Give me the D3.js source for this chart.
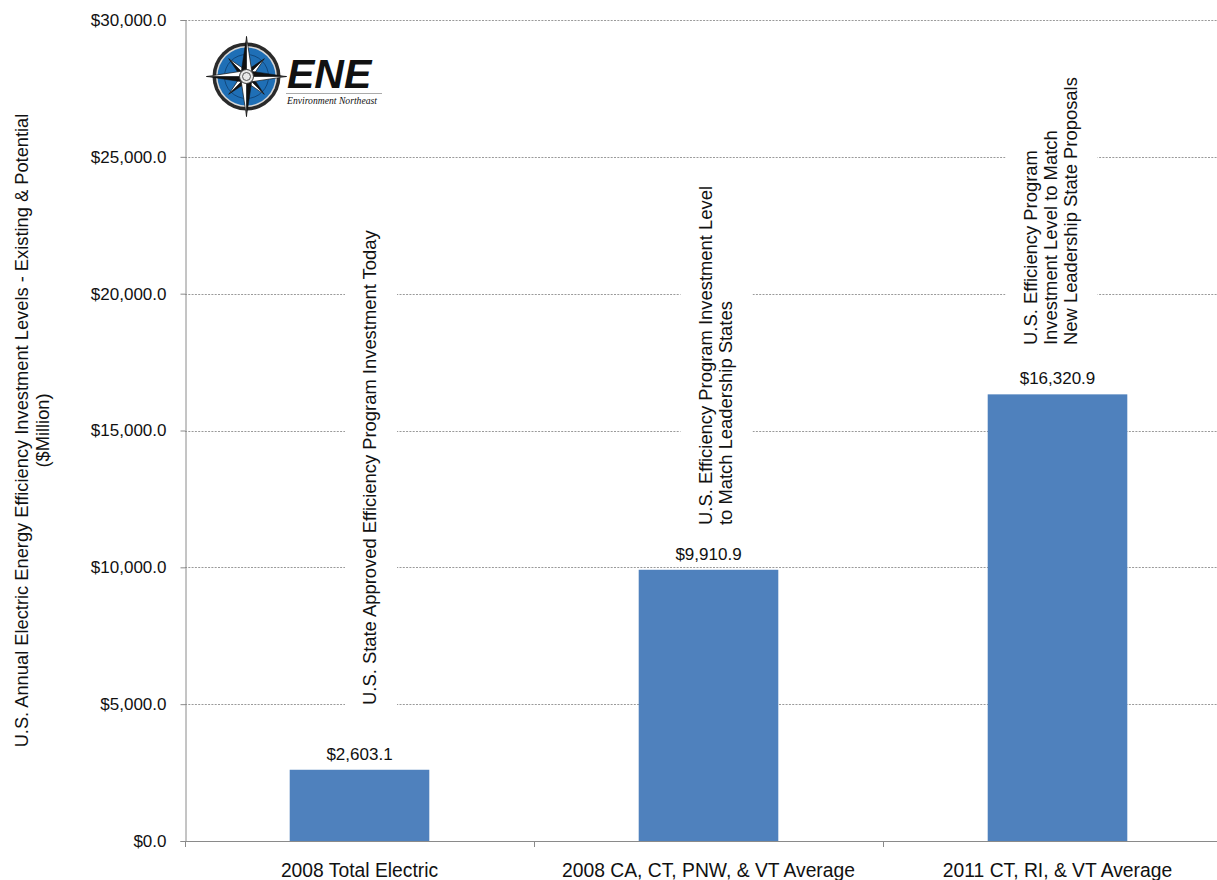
<!DOCTYPE html>
<html>
<head>
<meta charset="utf-8">
<script src="https://cdn.jsdelivr.net/npm/d3@7"></script>
<style>
  html, body { margin: 0; padding: 0; background: #fff; }
  svg { display: block; }
  text { font-family: "Liberation Sans", Arial, Helvetica, sans-serif; fill: #111; }
</style>
</head>
<body>
<svg id="chart" width="1217" height="880"></svg>
<script>
// Investment levels ($ million) by scenario
const categories = [
  "2008 Total Electric",
  "2008 CA, CT, PNW, & VT Average",
  "2011 CT, RI, & VT Average"
];
const values = [2603.1, 9910.9, 16320.9];

const yTicks = [0, 5000, 10000, 15000, 20000, 25000, 30000];

const yTitleLines = [
  "U.S. Annual Electric Energy Efficiency Investment Levels - Existing & Potential",
  "($Million)"
];

// Vertical notes written above each bar
const annotations = [
  ["U.S. State Approved Efficiency Program Investment Today"],
  ["U.S. Efficiency Program Investment Level", "to Match Leadership States"],
  ["U.S. Efficiency Program", "Investment Level to Match", "New Leadership  State Proposals"]
];

const W = 1217, H = 880;
const svg = d3.select("#chart");
svg.append("rect").attr("width", W).attr("height", H).attr("fill", "#fff");

const plot = { left: 185, top: 20, bottom: 841, step: 349 };

const x = d3.scaleBand()
  .domain(categories)
  .range([plot.left, plot.left + plot.step * categories.length])
  .paddingInner(0.6)
  .paddingOuter(0.3);

const y = d3.scaleLinear().domain([0, 30000]).range([plot.bottom, plot.top]);

const fmt = v => "$" + d3.format(",.1f")(v);

// Gridlines
svg.append("g").selectAll("line")
  .data(yTicks.filter(d => d > 0))
  .join("line")
  .attr("x1", plot.left).attr("x2", W)
  .attr("y1", d => Math.round(y(d)) + 0.5).attr("y2", d => Math.round(y(d)) + 0.5)
  .attr("stroke", "#9a9a9a")
  .attr("stroke-width", 1)
  .attr("stroke-dasharray", "2,1.3");

// Y axis
const yAxis = d3.axisLeft(y).tickValues(yTicks).tickFormat(fmt).tickSize(5).tickPadding(14);
const yG = svg.append("g").attr("transform", `translate(${plot.left + 0.5},0)`).call(yAxis);
yG.select(".domain").attr("stroke", "#8a8a8a");
yG.selectAll(".tick line").attr("stroke", "#8a8a8a");
yG.selectAll(".tick text")
  .attr("font-size", "17px")
  .style("font-family", "'Liberation Sans', Arial, sans-serif")
  .attr("fill", "#111");

// X axis: baseline with tick marks on category boundaries
const bounds = d3.range(categories.length + 1).map(i => plot.left + i * x.step());
const xG = svg.append("g");
xG.append("line")
  .attr("x1", plot.left).attr("x2", W)
  .attr("y1", plot.bottom + 0.5).attr("y2", plot.bottom + 0.5)
  .attr("stroke", "#8a8a8a");
xG.selectAll("line.tk")
  .data(bounds)
  .join("line")
  .attr("class", "tk")
  .attr("x1", d => Math.round(d) + 0.5).attr("x2", d => Math.round(d) + 0.5)
  .attr("y1", plot.bottom).attr("y2", plot.bottom + 6)
  .attr("stroke", "#8a8a8a");
xG.selectAll("text")
  .data(categories)
  .join("text")
  .attr("x", d => x(d) + x.bandwidth() / 2)
  .attr("y", 877)
  .attr("text-anchor", "middle")
  .attr("font-size", "19.3px")
  .text(d => d);

// Bars
svg.append("g").selectAll("rect")
  .data(values)
  .join("rect")
  .attr("x", (d, i) => x(categories[i]))
  .attr("width", x.bandwidth())
  .attr("y", d => y(d))
  .attr("height", d => y(0) - y(d))
  .attr("fill", "#4F81BD");

// Value labels
svg.append("g").selectAll("text")
  .data(values)
  .join("text")
  .attr("x", (d, i) => x(categories[i]) + x.bandwidth() / 2)
  .attr("y", d => y(d) - 10)
  .attr("text-anchor", "middle")
  .attr("font-size", "17px")
  .text(d => fmt(d));

// Rotated notes on white boxes that break the gridlines
const annLayout = [
  { dx: 16.5, bottom: 705 },
  { dx: 3, bottom: 525 },
  { dx: -21, bottom: 345 }
];
const lineGap = 20;
annotations.forEach((lines, i) => {
  const cx = x(categories[i]) + x.bandwidth() / 2 + annLayout[i].dx;
  const g = svg.append("g");
  const texts = g.selectAll("text")
    .data(lines)
    .join("text")
    .attr("transform", (d, j) => `translate(${cx + j * lineGap},${annLayout[i].bottom}) rotate(-90)`)
    .attr("font-size", "18.4px")
    .text(d => d);
  const maxLen = d3.max(texts.nodes(), n => n.getComputedTextLength());
  g.insert("rect", "text")
    .attr("x", cx - 14 - 17)
    .attr("width", (lines.length - 1) * lineGap + 14 + 4 + 34)
    .attr("y", annLayout[i].bottom - maxLen - 3)
    .attr("height", maxLen + 5)
    .attr("fill", "#fff");
});

// Y axis title
svg.append("g").selectAll("text")
  .data(yTitleLines)
  .join("text")
  .attr("transform", (d, i) => `translate(${28 + i * 21},${(plot.top + plot.bottom) / 2}) rotate(-90)`)
  .attr("text-anchor", "middle")
  .attr("font-size", "18.3px")
  .text(d => d);

// Organisation logo: compass rose with wordmark
const logo = svg.append("g");
const c = { x: 246.5, y: 76.5 };
logo.append("circle").attr("cx", c.x).attr("cy", c.y).attr("r", 34).attr("fill", "#2a2a2a");
logo.append("circle").attr("cx", c.x).attr("cy", c.y).attr("r", 30.5).attr("fill", "#d9d9d9");
logo.append("circle").attr("cx", c.x).attr("cy", c.y).attr("r", 29).attr("fill", "#1f6fb6");
logo.append("circle").attr("cx", c.x).attr("cy", c.y).attr("r", 22).attr("fill", "none")
  .attr("stroke", "#0e3e6e").attr("stroke-width", 0.8);

function point(angleDeg, len, half) {
  const a = angleDeg * Math.PI / 180;
  const tip = [c.x + Math.cos(a) * len, c.y + Math.sin(a) * len];
  const l = [c.x + Math.cos(a - Math.PI / 2) * half, c.y + Math.sin(a - Math.PI / 2) * half];
  const r = [c.x + Math.cos(a + Math.PI / 2) * half, c.y + Math.sin(a + Math.PI / 2) * half];
  logo.append("path").attr("d", `M${c.x},${c.y}L${l[0]},${l[1]}L${tip[0]},${tip[1]}Z`)
    .attr("fill", "#111").attr("stroke", "#111").attr("stroke-width", 0.5);
  logo.append("path").attr("d", `M${c.x},${c.y}L${r[0]},${r[1]}L${tip[0]},${tip[1]}Z`)
    .attr("fill", "#fff").attr("stroke", "#111").attr("stroke-width", 0.7);
}
[45, 135, 225, 315].forEach(a => point(a, 25, 5));
[0, 90, 180, 270].forEach(a => point(a, 40, 6));
logo.append("circle").attr("cx", c.x).attr("cy", c.y).attr("r", 7).attr("fill", "#e8e8e8")
  .attr("stroke", "#333").attr("stroke-width", 1);
logo.append("circle").attr("cx", c.x).attr("cy", c.y).attr("r", 4).attr("fill", "none")
  .attr("stroke", "#555").attr("stroke-width", 1);

logo.append("text")
  .attr("x", 287).attr("y", 88)
  .attr("font-size", "41px")
  .attr("font-weight", "bold")
  .attr("font-style", "italic")
  .attr("fill", "#111")
  .text("ENE");
logo.append("line")
  .attr("x1", 286).attr("x2", 382).attr("y1", 93.5).attr("y2", 93.5)
  .attr("stroke", "#aaa").attr("stroke-width", 1);
logo.append("text")
  .attr("x", 287).attr("y", 104)
  .attr("font-size", "10.5px")
  .attr("font-style", "italic")
  .attr("textLength", 90)
  .attr("lengthAdjust", "spacingAndGlyphs")
  .style("font-family", "'Liberation Serif', 'Times New Roman', serif")
  .attr("fill", "#555")
  .text("Environment Northeast");
</script>
</body>
</html>
